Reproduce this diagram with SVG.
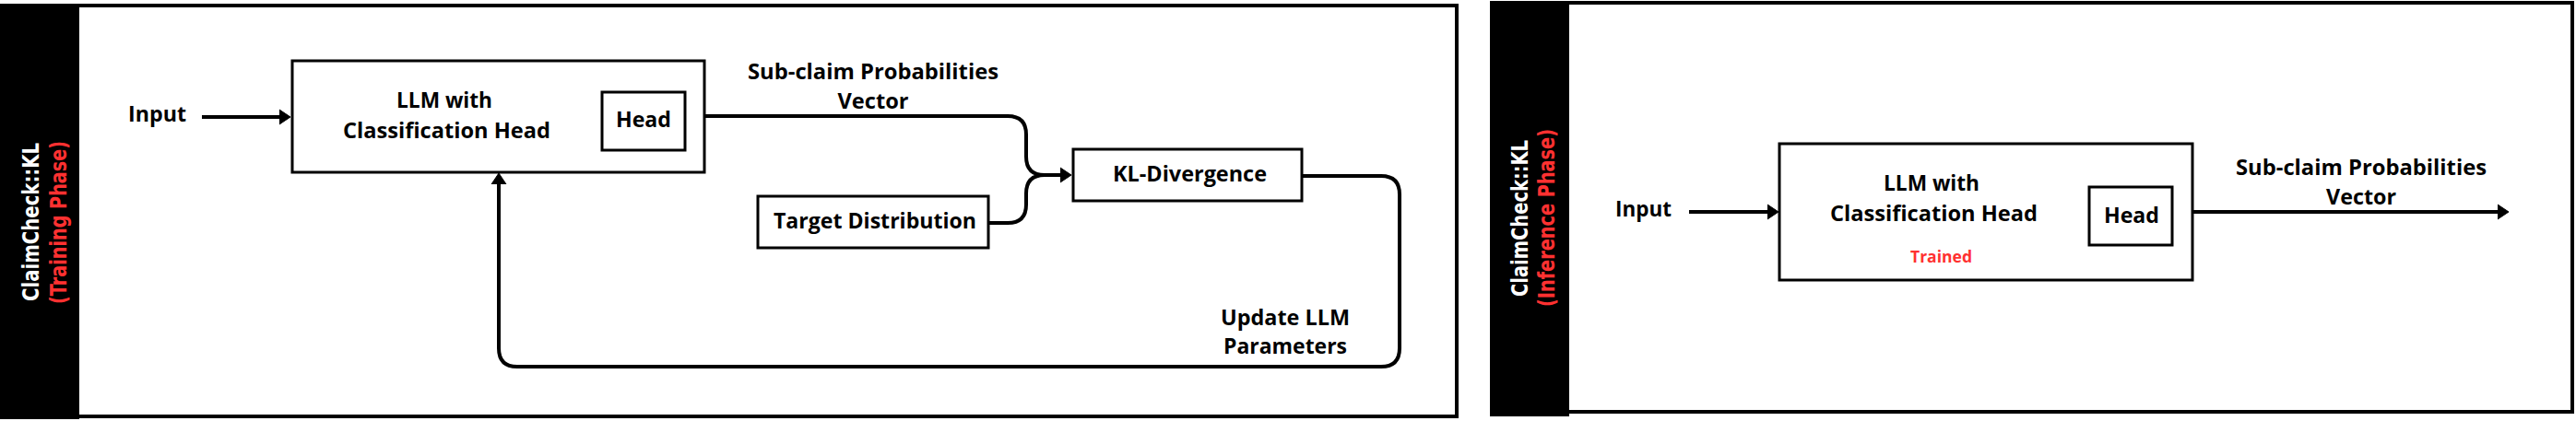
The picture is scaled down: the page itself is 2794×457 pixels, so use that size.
<svg xmlns="http://www.w3.org/2000/svg" width="2794" height="457" viewBox="0 0 2794 457">
<style>
.frame{fill:#fff;stroke:#000;stroke-width:4}
.bar{fill:#000}
.box{fill:#fff;stroke:#000;stroke-width:3}
.lbl{font-family:"Open Sans","Liberation Sans",sans-serif;font-weight:bold;font-size:24px;fill:#000}
.mid{text-anchor:middle}
.side{font-family:"DejaVu Sans","Liberation Sans",sans-serif;font-weight:bold;font-size:25px;text-anchor:middle}
.wh{fill:#fff}
.rd{fill:#ff3131}
.con{fill:none;stroke:#000;stroke-width:4}
</style>
<defs>
<marker id="ah" markerUnits="userSpaceOnUse" markerWidth="14" markerHeight="18" refX="2" refY="9" orient="auto">
<path d="M0,1 L12,9 L0,17 z" fill="#000" stroke="#000" stroke-width="1" stroke-linejoin="round"/>
</marker>
</defs>
<rect width="2794" height="457" fill="#fff"/>
<g id="training-panel">
<rect class="frame" x="2" y="6" width="1578" height="446"/>
<rect class="bar" x="0" y="4" width="86" height="451"/>
<text class="side wh" transform="translate(42,241) rotate(-90)" textLength="172" lengthAdjust="spacingAndGlyphs">ClaimCheck::KL</text>
<text class="side rd" transform="translate(72,241.5) rotate(-90)" textLength="177" lengthAdjust="spacingAndGlyphs">(Training Phase)</text>
</g>
<g id="inference-panel">
<rect class="frame" x="1618" y="3" width="1172" height="444"/>
<rect class="bar" x="1616" y="1" width="86" height="451"/>
<text class="side wh" transform="translate(1657,237) rotate(-90)" textLength="170" lengthAdjust="spacingAndGlyphs">ClaimCheck::KL</text>
<text class="side rd" transform="translate(1686,236.5) rotate(-90)" textLength="193" lengthAdjust="spacingAndGlyphs">(Inference Phase)</text>
</g>
<g id="connectors">
<path class="con" d="M219,127 H305" marker-end="url(#ah)"/>
<path class="con" d="M764,126 H1093 Q1113,126 1113,146 V170 Q1113,190 1133,190 H1152" marker-end="url(#ah)"/>
<path class="con" d="M1072,242 H1093 Q1113,242 1113,222 V210 Q1113,190 1133,190"/>
<path class="con" d="M1412,191 H1498 Q1518,191 1518,211 V378 Q1518,398 1498,398 H561 Q541,398 541,378 V198" marker-end="url(#ah)"/>
<path class="con" d="M1832,230 H1919" marker-end="url(#ah)"/>
<path class="con" d="M2378,230 H2711" marker-end="url(#ah)"/>
</g>
<g id="train-input">
<text class="lbl" x="139" y="132" textLength="63" lengthAdjust="spacingAndGlyphs">Input</text>
</g>
<g id="train-llm">
<rect class="box" x="317" y="66" width="447" height="121"/>
<text class="lbl mid" x="482" y="117" textLength="104" lengthAdjust="spacingAndGlyphs">LLM with</text>
<text class="lbl mid" x="484.5" y="150" textLength="225" lengthAdjust="spacingAndGlyphs">Classification Head</text>
</g>
<g id="train-head">
<rect class="box" x="653" y="100" width="90" height="63"/>
<text class="lbl mid" x="698" y="138" textLength="60" lengthAdjust="spacingAndGlyphs">Head</text>
</g>
<g id="train-vector-label">
<text class="lbl mid" x="947" y="86" textLength="272" lengthAdjust="spacingAndGlyphs">Sub-claim Probabilities</text>
<text class="lbl mid" x="947" y="118" textLength="77" lengthAdjust="spacingAndGlyphs">Vector</text>
</g>
<g id="target-distribution">
<rect class="box" x="822" y="213" width="250" height="56"/>
<text class="lbl mid" x="949" y="248" textLength="220" lengthAdjust="spacingAndGlyphs">Target Distribution</text>
</g>
<g id="kl-divergence">
<rect class="box" x="1164" y="162" width="248" height="56"/>
<text class="lbl mid" x="1290.5" y="197" textLength="167" lengthAdjust="spacingAndGlyphs">KL-Divergence</text>
</g>
<g id="update-label">
<text class="lbl mid" x="1394" y="353" textLength="140" lengthAdjust="spacingAndGlyphs">Update LLM</text>
<text class="lbl mid" x="1394" y="384" textLength="134" lengthAdjust="spacingAndGlyphs">Parameters</text>
</g>
<g id="inf-input">
<text class="lbl" x="1752" y="235" textLength="61" lengthAdjust="spacingAndGlyphs">Input</text>
</g>
<g id="inf-llm">
<rect class="box" x="1930" y="156" width="448" height="148"/>
<text class="lbl mid" x="2095" y="207" textLength="104" lengthAdjust="spacingAndGlyphs">LLM with</text>
<text class="lbl mid" x="2097.5" y="240" textLength="225" lengthAdjust="spacingAndGlyphs">Classification Head</text>
<text class="lbl mid rd" x="2105.5" y="285" style="font-size:18px" textLength="67" lengthAdjust="spacingAndGlyphs">Trained</text>
</g>
<g id="inf-head">
<rect class="box" x="2266" y="203" width="90" height="63"/>
<text class="lbl mid" x="2312" y="242" textLength="60" lengthAdjust="spacingAndGlyphs">Head</text>
</g>
<g id="inf-vector-label">
<text class="lbl mid" x="2561" y="190" textLength="272" lengthAdjust="spacingAndGlyphs">Sub-claim Probabilities</text>
<text class="lbl mid" x="2561" y="222" textLength="76" lengthAdjust="spacingAndGlyphs">Vector</text>
</g>
</svg>
